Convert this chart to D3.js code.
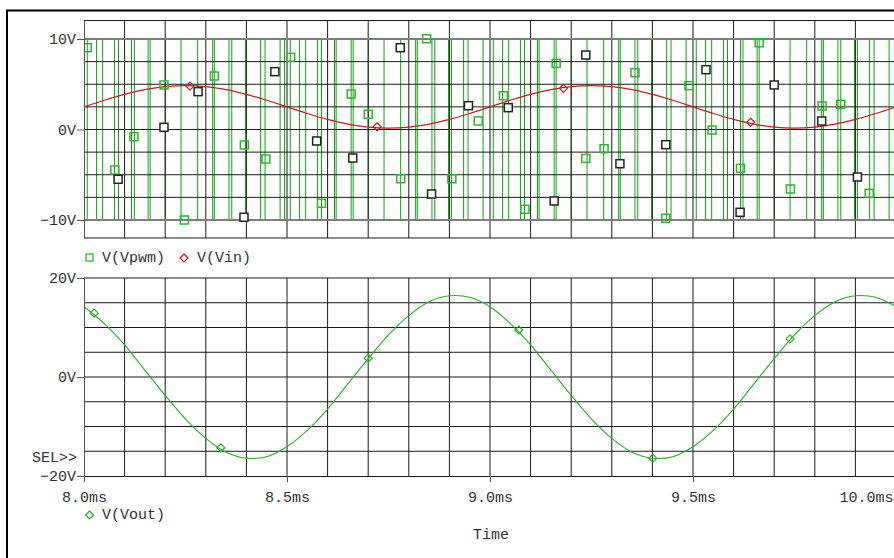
<!DOCTYPE html>
<html>
<head>
<meta charset="utf-8">
<script src="https://cdn.jsdelivr.net/npm/d3@7"></script>
<style>
  body { margin: 0; background: #fff; }
  text { font-family: "Liberation Mono", "Courier New", monospace; font-size: 15px; fill: #333; }
</style>
</head>
<body>
<div id="chart"></div>
<script>
// sample times (ms) for the analog traces
const sampleTimes = d3.range(41).map(i => 8 + i * 0.05);

const vinValues = [2.5, 3.23, 3.88, 4.40, 4.73, 4.85, 4.73, 4.40, 3.88, 3.23,
  2.5, 1.77, 1.12, 0.60, 0.27, 0.15, 0.27, 0.60, 1.12, 1.77,
  2.5, 3.23, 3.88, 4.40, 4.73, 4.85, 4.73, 4.40, 3.88, 3.23,
  2.5, 1.77, 1.12, 0.60, 0.27, 0.15, 0.27, 0.60, 1.12, 1.77, 2.5];

const voutValues = [14.2, 10.8, 6.5, 1.4, -3.7, -8.5, -12.4, -15.2, -16.4, -16.1,
  -14.1, -10.8, -6.5, -1.4, 3.7, 8.5, 12.4, 15.2, 16.4, 16.1,
  14.2, 10.8, 6.5, 1.4, -3.7, -8.5, -12.4, -15.2, -16.4, -16.1,
  -14.1, -10.8, -6.5, -1.4, 3.7, 8.5, 12.4, 15.2, 16.4, 16.1, 14.2];

// switching instants of V(Vpwm), ms
const pwmEdges = [
  8.008, 8.031, 8.046, 8.075, 8.085, 8.117, 8.124, 8.158, 8.163, 8.200,
  8.239, 8.280, 8.317, 8.321, 8.357, 8.364, 8.398, 8.435, 8.446, 8.483,
  8.494, 8.508, 8.531, 8.546, 8.575, 8.585, 8.617, 8.621, 8.658, 8.663,
  8.700, 8.739, 8.780, 8.817, 8.821, 8.857, 8.864, 8.898, 8.905, 8.935,
  8.946, 8.983,
  9.008, 9.031, 9.046, 9.075, 9.085, 9.117, 9.121, 9.158, 9.163, 9.200,
  9.239, 9.280, 9.317, 9.321, 9.357, 9.364, 9.398, 9.435, 9.446, 9.483,
  9.508, 9.531, 9.546, 9.575, 9.585, 9.617, 9.623, 9.658, 9.663, 9.700,
  9.739, 9.780, 9.817, 9.821, 9.857, 9.864, 9.898, 9.905, 9.935, 9.946, 9.983
];
const pwmHigh = 10;
const pwmLow = -10;

// trace symbols [time ms, volts]
const pwmMarkers = [
  [8.008, 9.04], [8.197, 4.92], [8.321, 5.91], [8.509, 7.98], [8.123, -0.8],
  [8.076, -4.48], [8.247, -10.0], [8.395, -1.71], [8.448, -3.26], [8.658, 3.92],
  [8.700, 1.68], [8.844, 10.03], [8.971, 0.94], [9.033, 3.73], [9.163, 7.30],
  [8.780, -5.44], [8.906, -5.44], [8.585, -8.15], [9.086, -8.82], [9.236, -3.2],
  [9.357, 6.28], [9.490, 4.84], [9.663, 9.59], [9.547, -0.06], [9.818, 2.6],
  [9.864, 2.78], [9.281, -2.12], [9.433, -9.81], [9.617, -4.29], [9.740, -6.57],
  [9.934, -7.05]
];
const pwmMarkersAlt = [
  [8.197, 0.24], [8.281, 4.18], [8.470, 6.39], [8.084, -5.5], [8.394, -9.7],
  [8.779, 9.04], [8.947, 2.63], [9.045, 2.41], [9.236, 8.23], [8.573, -1.27],
  [8.662, -3.15], [8.856, -7.13], [9.158, -7.9], [9.532, 6.61], [9.700, 4.92],
  [9.817, 0.94], [9.320, -3.78], [9.433, -1.68], [9.616, -9.15], [9.905, -5.25]
];
const vinMarkers = [[8.261, 4.8], [8.722, 0.3], [9.181, 4.55], [9.642, 0.8]];
const voutMarkers = [[8.025, 12.9], [8.337, -14.3], [8.700, 3.8], [9.071, 9.5], [9.401, -16.4], [9.739, 7.7]];

// axes
const timeTicks = [8.0, 8.5, 9.0, 9.5, 10.0];
const timeGrid = d3.range(21).map(i => 8 + i * 0.1);
const topTicks = [10, 0, -10];
const topGrid = [10, 7.5, 5, 2.5, 0, -2.5, -5, -7.5, -10];
const botTicks = [20, 0, -20];
const botGrid = [15, 10, 5, 0, -5, -10, -15];

const width = 894, height = 558;
const svg = d3.select('#chart').append('svg')
  .attr('width', width)
  .attr('height', height);

svg.append('rect').attr('width', width).attr('height', height).attr('fill', '#fff');

const x = d3.scaleLinear().domain([8, 10]).range([84, 896]);
const yTop = d3.scaleLinear().domain([-11.99, 12.1]).range([238, 20]);
const yBot = d3.scaleLinear().domain([-20, 20]).range([476, 278]);

svg.append('clipPath').attr('id', 'clipTop')
  .append('rect').attr('x', 84).attr('y', 19).attr('width', 812).attr('height', 220);
svg.append('clipPath').attr('id', 'clipBot')
  .append('rect').attr('x', 84).attr('y', 277).attr('width', 812).attr('height', 200);

const gridColor = '#1a1a1a';

// ---- top plot ----
const topG = svg.append('g').attr('clip-path', 'url(#clipTop)');

// PWM square wave
let lvl = pwmLow;
const pwmPts = [[8, lvl]];
pwmEdges.forEach(e => {
  pwmPts.push([e, lvl]);
  lvl = lvl === pwmHigh ? pwmLow : pwmHigh;
  pwmPts.push([e, lvl]);
});
pwmPts.push([10, lvl]);

topG.append('path')
  .datum(pwmPts)
  .attr('fill', 'none')
  .attr('stroke', '#12a312')
  .attr('stroke-width', 1)
  .attr('d', d3.line().x(d => x(d[0])).y(d => yTop(d[1])));

topG.selectAll('.vgrid').data(timeGrid).join('line')
  .attr('x1', d => x(d)).attr('x2', d => x(d))
  .attr('y1', yTop.range()[1]).attr('y2', yTop.range()[0])
  .attr('stroke', gridColor).attr('stroke-width', 1);

topG.selectAll('.hgrid').data(topGrid).join('line')
  .attr('x1', 84).attr('x2', 896)
  .attr('y1', d => yTop(d)).attr('y2', d => yTop(d))
  .attr('stroke', d => Math.abs(d) === 10 ? '#7d7d7d' : gridColor)
  .attr('stroke-width', d => Math.abs(d) === 10 ? 2 : 1);

topG.append('line').attr('x1', 84).attr('x2', 896).attr('y1', 20.5).attr('y2', 20.5)
  .attr('stroke', gridColor);
topG.append('line').attr('x1', 84).attr('x2', 896).attr('y1', 238).attr('y2', 238)
  .attr('stroke', gridColor);

// Vin
topG.append('path')
  .datum(sampleTimes.map((t, i) => [t, vinValues[i]]))
  .attr('fill', 'none')
  .attr('stroke', '#c41e1e')
  .attr('stroke-width', 1.2)
  .attr('d', d3.line().curve(d3.curveCatmullRom).x(d => x(d[0])).y(d => yTop(d[1])));

const sq = 8;
topG.selectAll('.pm').data(pwmMarkers).join('rect')
  .attr('x', d => x(d[0]) - sq / 2).attr('y', d => yTop(d[1]) - sq / 2)
  .attr('width', sq).attr('height', sq)
  .attr('fill', 'none').attr('stroke', '#2fb52f').attr('stroke-width', 1.5);

topG.selectAll('.pa').data(pwmMarkersAlt).join('rect')
  .attr('x', d => x(d[0]) - sq / 2).attr('y', d => yTop(d[1]) - sq / 2)
  .attr('width', sq).attr('height', sq)
  .attr('fill', '#fff').attr('stroke', '#222').attr('stroke-width', 1.5);

const diamond = (cx, cy, r) => `M${cx},${cy - r}L${cx + r},${cy}L${cx},${cy + r}L${cx - r},${cy}Z`;

topG.selectAll('.vm').data(vinMarkers).join('path')
  .attr('d', d => diamond(x(d[0]), yTop(d[1]), 4))
  .attr('fill', 'none').attr('stroke', '#c41e1e').attr('stroke-width', 1.2);

// ---- bottom plot ----
const botG = svg.append('g').attr('clip-path', 'url(#clipBot)');

botG.selectAll('.vgrid').data(timeGrid).join('line')
  .attr('x1', d => x(d)).attr('x2', d => x(d))
  .attr('y1', 278).attr('y2', 476)
  .attr('stroke', gridColor).attr('stroke-width', 1);

botG.selectAll('.hgrid').data(botGrid.concat([20])).join('line')
  .attr('x1', 84).attr('x2', 896)
  .attr('y1', d => yBot(d)).attr('y2', d => yBot(d))
  .attr('stroke', gridColor).attr('stroke-width', 1);

botG.append('path')
  .datum(sampleTimes.map((t, i) => [t, voutValues[i]]))
  .attr('fill', 'none')
  .attr('stroke', '#2aae2a')
  .attr('stroke-width', 1.1)
  .attr('d', d3.line().curve(d3.curveCatmullRom).x(d => x(d[0])).y(d => yBot(d[1])));

botG.selectAll('.om').data(voutMarkers).join('path')
  .attr('d', d => diamond(x(d[0]), yBot(d[1]), 4))
  .attr('fill', 'none').attr('stroke', '#2aae2a').attr('stroke-width', 1.2);

// ---- axes ----
const vFmt = d => (d < 0 ? '\u2212' : '') + Math.abs(d) + 'V';

function styleAxis(g) {
  g.select('.domain').attr('stroke', '#555');
  g.selectAll('.tick line').attr('stroke', '#555');
  g.selectAll('.tick text')
    .attr('fill', '#333')
    .style('font-family', '"Liberation Mono", monospace')
    .style('font-size', '15px');
}

svg.append('g')
  .attr('transform', 'translate(84,0)')
  .call(d3.axisLeft(yTop).tickValues(topTicks).tickFormat(vFmt).tickSize(7).tickSizeOuter(0).tickPadding(1))
  .call(styleAxis);

svg.append('g')
  .attr('transform', 'translate(84,0)')
  .call(d3.axisLeft(yBot).tickValues(botTicks).tickFormat(vFmt).tickSize(7).tickSizeOuter(0).tickPadding(1))
  .call(styleAxis);

const xAxisG = svg.append('g')
  .attr('transform', 'translate(0,476)')
  .call(d3.axisBottom(x).tickValues(timeTicks).tickFormat(d => d.toFixed(1) + 'ms').tickSize(6).tickSizeOuter(0).tickPadding(9))
  .call(styleAxis);
xAxisG.select('.domain').attr('stroke', gridColor);
xAxisG.selectAll('.tick text').filter(d => d === 10).attr('text-anchor', 'end').attr('dx', -3);

// ---- legends & labels ----
svg.append('rect').attr('x', 86).attr('y', 254).attr('width', 7).attr('height', 7)
  .attr('fill', 'none').attr('stroke', '#2fb52f').attr('stroke-width', 1.3);
svg.append('text').attr('x', 102).attr('y', 258).attr('dominant-baseline', 'middle').text('V(Vpwm)');
svg.append('path').attr('d', diamond(184, 258, 4))
  .attr('fill', 'none').attr('stroke', '#c41e1e').attr('stroke-width', 1.2);
svg.append('text').attr('x', 197).attr('y', 258).attr('dominant-baseline', 'middle').text('V(Vin)');

svg.append('path').attr('d', diamond(89.5, 515, 4))
  .attr('fill', 'none').attr('stroke', '#2aae2a').attr('stroke-width', 1.2);
svg.append('text').attr('x', 102).attr('y', 515).attr('dominant-baseline', 'middle').text('V(Vout)');

svg.append('text').attr('x', 32).attr('y', 458).attr('dominant-baseline', 'middle').text('SEL>>');
svg.append('text').attr('x', 491).attr('y', 535).attr('text-anchor', 'middle')
  .attr('dominant-baseline', 'middle').text('Time');

// outer frame
svg.append('line').attr('x1', 6).attr('x2', 894).attr('y1', 10.5).attr('y2', 10.5)
  .attr('stroke', '#000').attr('stroke-width', 2);
svg.append('line').attr('x1', 7).attr('x2', 7).attr('y1', 10).attr('y2', 558)
  .attr('stroke', '#000').attr('stroke-width', 2);
</script>
</body>
</html>
